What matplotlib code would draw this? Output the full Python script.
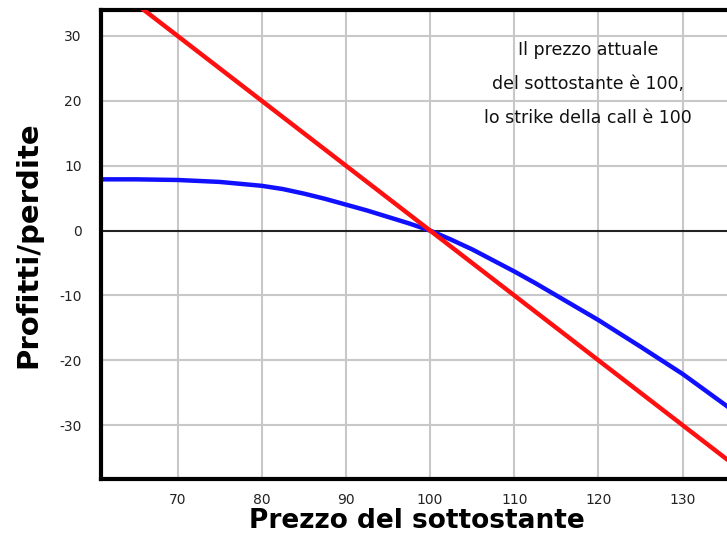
import numpy as np
import matplotlib
matplotlib.use("Agg")
import matplotlib.pyplot as plt

plt.rcParams["axes.unicode_minus"] = False

# ======================================================
# Data
# ======================================================

price_short = [60, 140]
pl_short = [40, -40]

price_call = [61, 65, 70, 75, 80, 82.5, 85, 87.5, 90, 92.5, 95, 97.5, 100,
              102.5, 105, 107.5, 110, 112.5, 115, 117.5, 120, 125, 130, 135.2]
pl_call = [7.9, 7.9, 7.8, 7.5, 6.9, 6.4, 5.7, 4.9, 4.0, 3.1, 2.1, 1.1, 0.0,
           -1.4, -2.9, -4.6, -6.3, -8.1, -10.0, -11.9, -13.8, -17.9, -22.1, -27.0]

x_ticks = [70, 80, 90, 100, 110, 120, 130]
y_ticks = [-30, -20, -10, 0, 10, 20, 30]

note = "Il prezzo attuale\ndel sottostante è 100,\nlo strike della call è 100"

# ======================================================
# Figure
# ======================================================

fig = plt.figure(figsize=(7.27, 5.42), dpi=100)
ax = fig.add_axes([0.139, 0.1162, 0.87, 0.8653])

ax.set_xlim(60.9, 135.2 + (135.2 - 60.9) * 0.0115)
ax.set_ylim(-38.3, 34.0)

for xv in x_ticks:
    ax.axvline(xv, color="#c8c8c8", lw=1.5, zorder=0)
for yv in y_ticks:
    if yv != 0:
        ax.axhline(yv, color="#c8c8c8", lw=1.5, zorder=0)
ax.axhline(0, color="#222222", lw=1.5, zorder=1)

ax.plot(price_short, pl_short, color="#ff1010", lw=3.2, zorder=3, solid_capstyle="butt")
ax.plot(price_call, pl_call, color="#1010ff", lw=3.2, zorder=2)

ax.set_xticks(x_ticks)
ax.set_yticks(y_ticks)
ax.tick_params(length=0, labelsize=10, colors="#222222")
ax.tick_params(axis="y", pad=14)
ax.tick_params(axis="x", pad=10)

for side in ["left", "bottom", "top"]:
    ax.spines[side].set_linewidth(3)
    ax.spines[side].set_color("black")
ax.spines["right"].set_visible(False)

ax.set_xlabel("Prezzo del sottostante", fontsize=19, fontweight="bold", labelpad=1)
ax.set_ylabel("Profitti/perdite", fontsize=21, fontweight="bold", labelpad=12)

ax.text(0.77, 0.935, note, transform=ax.transAxes, ha="center", va="top",
        fontsize=12.5, linespacing=2.15, color="#111111")

fig.savefig("out.png", dpi=100)
